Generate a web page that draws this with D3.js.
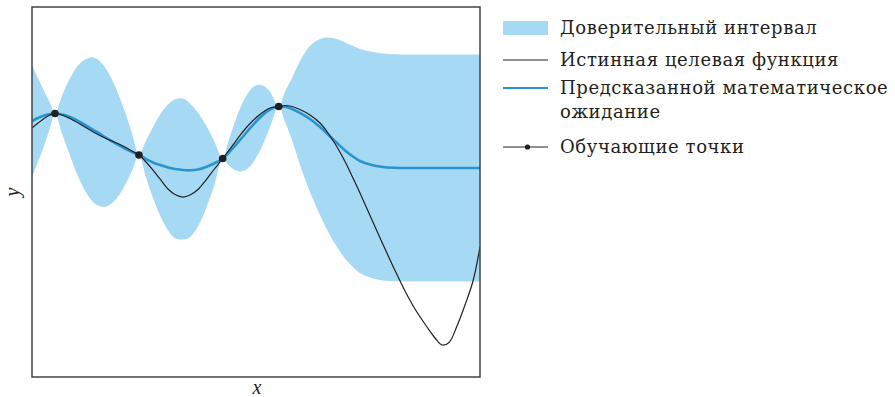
<!DOCTYPE html>
<html>
<head>
<meta charset="utf-8">
<script src="https://cdn.jsdelivr.net/npm/d3@7"></script>
<style>
  body { margin: 0; background: #fff; }
  text { font-family: "Liberation Serif", "DejaVu Serif", serif; fill: #231f20; }
  .legend text { font-family: "DejaVu Serif", serif; letter-spacing: 0.6px; }
</style>
</head>
<body>
<svg id="chart" width="895" height="397"></svg>
<script>
// Gaussian-process regression: sample grid along x
const xs = [0, 0.134, 0.268, 0.402, 0.513, 0.670, 0.848, 1.071, 1.295, 1.451, 1.629, 1.808, 1.964, 2.098, 2.232,
  2.388, 2.545, 2.701, 2.857, 3.036, 3.192, 3.371, 3.527, 3.705, 3.884, 4.063,
  4.257, 4.375, 4.509, 4.643, 4.777, 4.911, 5.045, 5.179, 5.313,
  5.507, 5.647, 5.804, 5.982, 6.205, 6.429, 6.607, 6.808, 6.987, 7.165, 7.321, 7.545, 7.835, 8.103,
  8.326, 8.549, 8.817, 8.996, 9.152, 9.308, 9.487, 9.665, 9.844, 10.0];

// predicted mean
const meanY = [0.959, 1.000, 1.034, 1.054, 1.061, 1.047, 1.014, 0.946, 0.865, 0.811, 0.743, 0.676, 0.622, 0.581, 0.541,
  0.500, 0.446, 0.399, 0.365, 0.331, 0.311, 0.297, 0.293, 0.304, 0.338, 0.385,
  0.453, 0.520, 0.608, 0.703, 0.797, 0.892, 0.980, 1.054, 1.115,
  1.155, 1.151, 1.122, 1.068, 0.986, 0.878, 0.777, 0.662, 0.561, 0.480, 0.419, 0.372, 0.338, 0.327,
  0.324, 0.324, 0.324, 0.324, 0.324, 0.324, 0.324, 0.324, 0.324, 0.324];

// confidence interval, upper and lower edges
const upperY = [1.716, 1.541, 1.365, 1.203, 1.061, 1.303, 1.538, 1.741, 1.818, 1.797, 1.686, 1.491, 1.266, 1.043, 0.796,
  0.500, 0.695, 0.880, 1.045, 1.181, 1.254, 1.264, 1.197, 1.072, 0.901, 0.693,
  0.453, 0.670, 0.912, 1.127, 1.293, 1.404, 1.450, 1.431, 1.355,
  1.155, 1.354, 1.541, 1.770, 1.973, 2.068, 2.088, 2.068, 2.020, 1.973, 1.932, 1.899, 1.872, 1.861,
  1.858, 1.858, 1.858, 1.858, 1.858, 1.858, 1.858, 1.858, 1.858, 1.858];

const lowerY = [0.203, 0.405, 0.622, 0.865, 1.061, 0.792, 0.489, 0.151, -0.088, -0.176, -0.200, -0.139, -0.023, 0.119, 0.285,
  0.500, 0.197, -0.082, -0.315, -0.519, -0.626, -0.642, -0.611, -0.464, -0.226, 0.077,
  0.453, 0.370, 0.304, 0.278, 0.301, 0.380, 0.509, 0.677, 0.874,
  1.155, 0.949, 0.703, 0.365, 0.000, -0.311, -0.534, -0.743, -0.899, -1.014, -1.095, -1.155, -1.196, -1.207,
  -1.209, -1.209, -1.209, -1.209, -1.209, -1.209, -1.209, -1.209, -1.209, -1.209];

// true objective function
const trueY = [0.865, 0.932, 0.993, 1.041, 1.061, 1.041, 0.993, 0.919, 0.838, 0.784, 0.730, 0.682, 0.642, 0.601, 0.554,
  0.500, 0.405, 0.297, 0.176, 0.041, -0.034, -0.068, -0.041, 0.034, 0.162, 0.304,
  0.453, 0.547, 0.655, 0.764, 0.865, 0.953, 1.027, 1.088, 1.135,
  1.155, 1.169, 1.155, 1.115, 1.041, 0.932, 0.797, 0.608, 0.412, 0.189, -0.014, -0.318, -0.709, -1.061,
  -1.338, -1.581, -1.824, -1.973, -2.068, -2.034, -1.811, -1.527, -1.203, -0.743];

// observed training points
const trainX = [0.513, 2.388, 4.257, 5.507];
const trainY = [1.061, 0.500, 0.453, 1.155];

const legendLabels = [
  ["Доверительный интервал"],
  ["Истинная целевая функция"],
  ["Предсказанной математическое", "ожидание"],
  ["Обучающие точки"]
];
const axisLabels = { x: "x", y: "y" };

const colors = { band: "#a6daf4", mean: "#2a93d0", truth: "#231f20", frame: "#444444" };

const svg = d3.select("#chart");
const plot = { left: 32, top: 7, width: 448, height: 370 };

const x = d3.scaleLinear().domain([0, 10]).range([plot.left, plot.left + plot.width]);
const y = d3.scaleLinear().domain([-2.5, 2.5]).range([plot.top + plot.height, plot.top]);

svg.append("defs").append("clipPath").attr("id", "plot-clip")
  .append("rect")
  .attr("x", plot.left).attr("y", plot.top)
  .attr("width", plot.width).attr("height", plot.height);

const g = svg.append("g").attr("clip-path", "url(#plot-clip)");
const idx = d3.range(xs.length);
const curve = d3.curveCatmullRom.alpha(0.5);

// confidence band
g.append("path")
  .datum(idx)
  .attr("fill", colors.band)
  .attr("d", d3.area().curve(curve)
    .x(i => x(xs[i])).y0(i => y(lowerY[i])).y1(i => y(upperY[i])));

// predicted mean
g.append("path")
  .datum(idx)
  .attr("fill", "none")
  .attr("stroke", colors.mean)
  .attr("stroke-width", 2.6)
  .attr("d", d3.line().curve(curve).x(i => x(xs[i])).y(i => y(meanY[i])));

// true function
g.append("path")
  .datum(idx)
  .attr("fill", "none")
  .attr("stroke", colors.truth)
  .attr("stroke-width", 1.2)
  .attr("d", d3.line().curve(curve).x(i => x(xs[i])).y(i => y(trueY[i])));

// training points
g.selectAll("circle.train")
  .data(trainX.map((v, i) => [v, trainY[i]]))
  .join("circle")
  .attr("class", "train")
  .attr("cx", d => x(d[0])).attr("cy", d => y(d[1]))
  .attr("r", 3.8)
  .attr("fill", colors.truth);

// frame
svg.append("rect")
  .attr("x", plot.left).attr("y", plot.top)
  .attr("width", plot.width).attr("height", plot.height)
  .attr("fill", "none")
  .attr("stroke", colors.frame)
  .attr("stroke-width", 1.5);

// axis titles
svg.append("text")
  .attr("x", plot.left + plot.width / 2 + 1)
  .attr("y", 394)
  .attr("text-anchor", "middle")
  .attr("font-style", "italic")
  .attr("font-size", 20)
  .text(axisLabels.x);

svg.append("text")
  .attr("transform", `translate(19, ${plot.top + plot.height / 2}) rotate(-90)`)
  .attr("text-anchor", "middle")
  .attr("font-style", "italic")
  .attr("font-size", 20)
  .text(axisLabels.y);

// legend
const legend = svg.append("g").attr("class", "legend").attr("transform", "translate(503, 0)");
const rows = [28, 60, 88, 147];
const swatchW = 45;
const fontSize = 18;

legend.append("rect")
  .attr("x", 0).attr("y", rows[0] - 7)
  .attr("width", swatchW).attr("height", 14)
  .attr("fill", colors.band);

legend.append("line")
  .attr("x1", 0).attr("x2", swatchW)
  .attr("y1", rows[1]).attr("y2", rows[1])
  .attr("stroke", colors.truth).attr("stroke-width", 1.1);

legend.append("line")
  .attr("x1", 0).attr("x2", swatchW)
  .attr("y1", rows[2]).attr("y2", rows[2])
  .attr("stroke", colors.mean).attr("stroke-width", 2);

legend.append("line")
  .attr("x1", 0).attr("x2", swatchW)
  .attr("y1", rows[3]).attr("y2", rows[3])
  .attr("stroke", colors.truth).attr("stroke-width", 1.1);
legend.append("circle")
  .attr("cx", swatchW / 2 + 2).attr("cy", rows[3]).attr("r", 2.6)
  .attr("fill", colors.truth);

legendLabels.forEach((lines, i) => {
  const t = legend.append("text")
    .attr("x", 57)
    .attr("y", rows[i] + 6)
    .attr("font-size", fontSize);
  lines.forEach((s, j) => {
    t.append("tspan")
      .attr("x", 57)
      .attr("dy", j === 0 ? 0 : 24)
      .text(s);
  });
});
</script>
</body>
</html>
